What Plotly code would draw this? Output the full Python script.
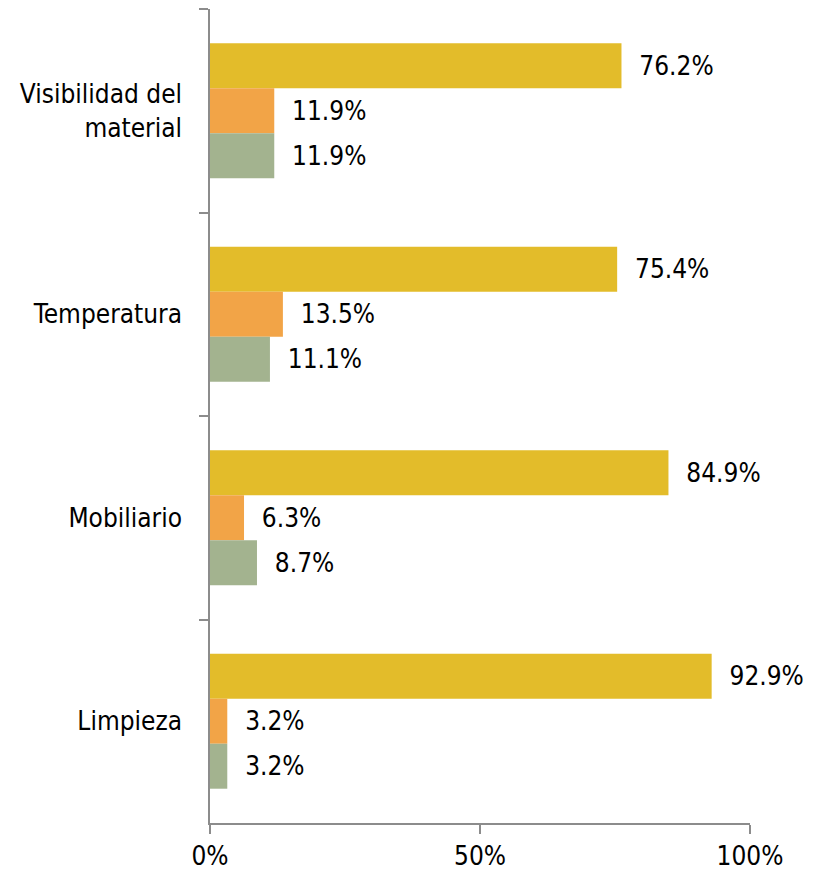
import plotly.graph_objects as go

categorias = ["Visibilidad del<br>material", "Temperatura", "Mobiliario", "Limpieza"]
serie_a = [76.2, 75.4, 84.9, 92.9]
serie_b = [11.9, 13.5, 6.3, 3.2]
serie_c = [11.9, 11.1, 8.7, 3.2]
colores = ["#E3BC2A", "#F2A447", "#A3B38F"]

FUENTE = "DejaVu Sans Condensed"

fig = go.Figure()
for vals, col in zip([serie_a, serie_b, serie_c], colores):
    fig.add_trace(go.Bar(
        y=categorias, x=vals, orientation="h",
        marker=dict(color=col, line=dict(width=0)),
        text=["  %.1f%%" % v for v in vals],
        textposition="outside",
        textfont=dict(size=26, color="#000000", family=FUENTE),
        cliponaxis=False,
        hoverinfo="skip",
    ))

fig.update_layout(
    width=817, height=876,
    barmode="group", bargap=0.337, bargroupgap=0,
    showlegend=False,
    plot_bgcolor="white", paper_bgcolor="white",
    margin=dict(l=202, r=75, t=1, b=61),
    font=dict(family=FUENTE, size=26, color="#000000"),
)
fig.update_xaxes(
    range=[0, 100], tickvals=[0, 50, 100], ticktext=["0%", "50%", "100%"],
    showgrid=False, zeroline=False,
    showline=True, linecolor="#8C8C8C", linewidth=1.5,
    ticks="outside", ticklen=9, tickcolor="#8C8C8C", tickwidth=1.5,
    tickfont=dict(size=26),
)
fig.update_yaxes(
    autorange="reversed", showgrid=False, zeroline=False,
    showline=True, linecolor="#8C8C8C", linewidth=1.5,
    ticks="outside", ticklen=9, tickcolor="#8C8C8C", tickwidth=1.5,
    tickson="boundaries", ticklabelstandoff=21,
    tickfont=dict(size=26),
)

fig.write_html("out.html")
